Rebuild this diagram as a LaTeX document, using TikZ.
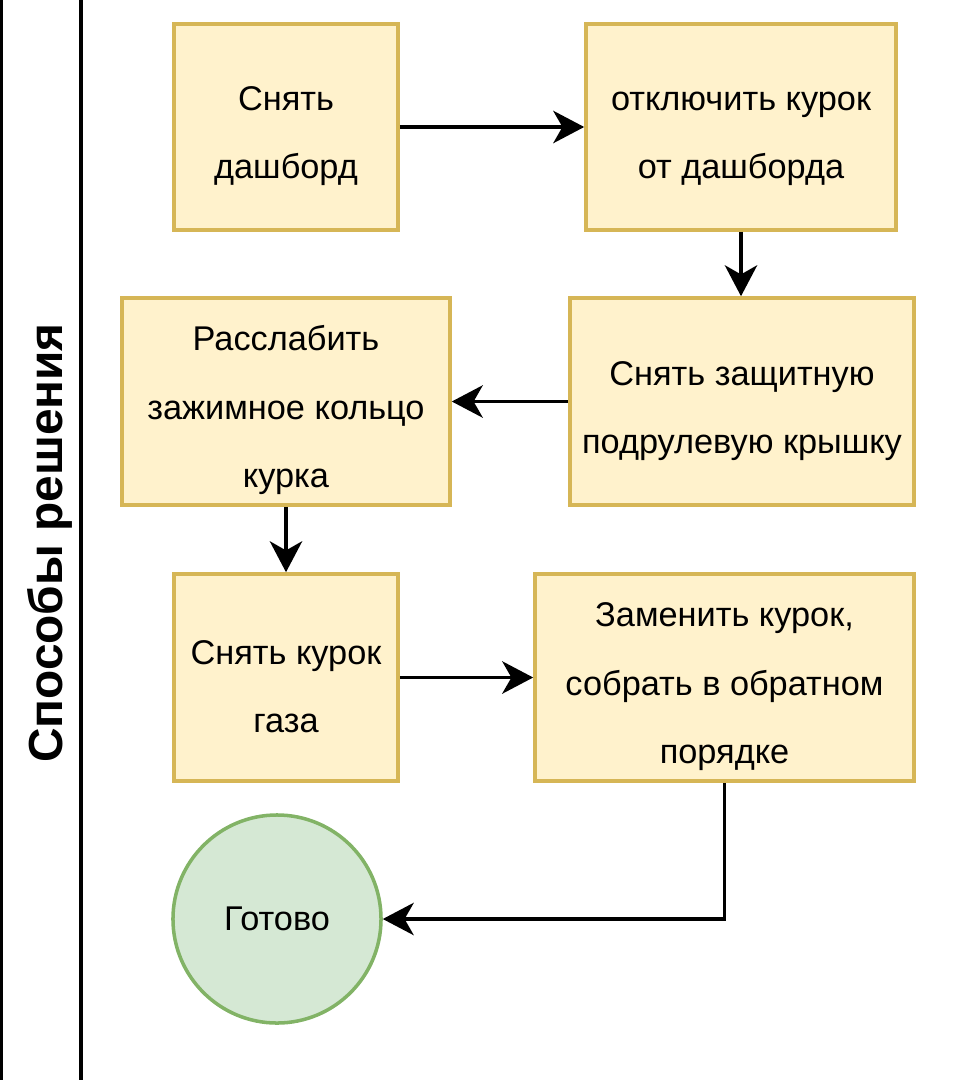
\documentclass[tikz,border=0pt]{standalone}
\usepackage{fontspec}
\setmainfont{Liberation Sans}
\usepackage{tikz}
\usetikzlibrary{arrows.meta}
\definecolor{boxfill}{rgb}{1.,0.949,0.8}
\definecolor{boxline}{rgb}{0.839,0.714,0.337}
\definecolor{endfill}{rgb}{0.835,0.91,0.831}
\definecolor{endline}{rgb}{0.51,0.702,0.4}
\tikzstyle{every node}=[font=\fontsize{24.4}{48.6}\selectfont]
\tikzstyle{stepbox}=[draw=boxline,fill=boxfill,line width=2.5pt,inner sep=0pt,align=center]
\tikzstyle{twoline}=[text height=78.9pt]
\tikzstyle{threeline}=[text height=127.5pt]
\tikzstyle{endcirc}=[circle,draw=endline,fill=endfill,line width=2.5pt,inner sep=0pt,minimum size=5.2cm]
\tikzstyle{arr}=[-{Stealth[length=22pt,width=23pt,inset=6.5pt]},line width=2.6pt]

\begin{document}
\begin{tikzpicture}[line cap=butt,line join=miter,x=0.025cm,y=-0.025cm]
        \useasboundingbox (0,0) rectangle (964,1080);
        % lane
        \draw [line width=2.3pt] (1.5,0) -- (1.5,1080);
        \draw [line width=2.2pt] (81,0) -- (81,1080);
        \node [rotate=90,font=\bfseries\fontsize{34}{40}\selectfont] (lane) at (50,543) {Способы решения};
        % steps
        \node [stepbox,twoline,minimum width=5.6cm,minimum height=5.15cm] (dash) at (286,127) {Снять\\дашборд};
        \node [stepbox,twoline,minimum width=7.75cm,minimum height=5.15cm] (unhook) at (741,127) {отключить курок\\от дашборда};
        \node [stepbox,twoline,minimum width=8.6cm,minimum height=5.175cm] (cover) at (742,401.5) {Снять защитную\\подрулевую крышку};
        \node [stepbox,threeline,minimum width=8.2cm,minimum height=5.175cm] (ring) at (286,401.5) {Расслабить\\зажимное кольцо\\курка};
        \node [stepbox,twoline,minimum width=5.6cm,minimum height=5.175cm] (trig) at (286,677.5) {Снять курок\\газа};
        \node [stepbox,threeline,minimum width=9.475cm,minimum height=5.175cm] (swap) at (724.5,677.5) {Заменить курок,\\собрать в обратном\\порядке};
        \node [endcirc] (done) at (277,919) {Готово};
        % arrows
        \draw [arr] (dash) -- (unhook);
        \draw [arr] (unhook.south) -- (unhook.south |- cover.north);
        \draw [arr] (cover) -- (ring);
        \draw [arr] (ring.south) -- (ring.south |- trig.north);
        \draw [arr] (trig) -- (swap);
        \draw [arr] (swap) |- (done);
\end{tikzpicture}
\end{document}
